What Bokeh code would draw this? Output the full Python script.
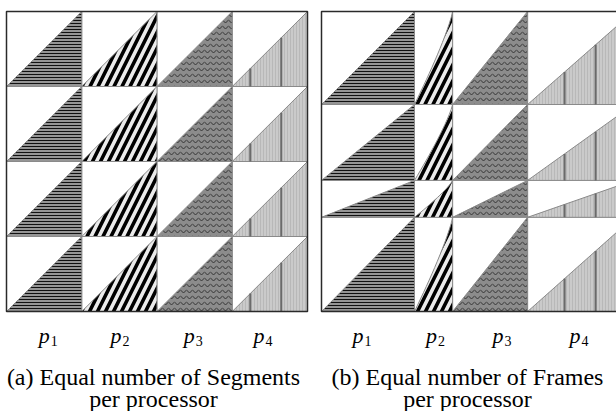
import numpy as np
from bokeh.plotting import figure
from bokeh.models import Range1d
from bokeh.core.properties import value
from bokeh.embed import file_html
from bokeh.resources import INLINE

# ---------------- data ----------------
processors = ["p", "p", "p", "p"]
proc_index = ["1", "2", "3", "4"]
# share of the panel width (frames) given to each processor
a_proc_share = [0.25, 0.25, 0.25, 0.25]
b_proc_share = [0.31, 0.127, 0.25, 0.353]
# share of the panel height given to each segment (row)
a_seg_share = [0.25, 0.25, 0.25, 0.25]
b_seg_share = [0.31, 0.253, 0.123, 0.314]
caption_a = ["(a) Equal number of Segments", "per processor"]
caption_b = ["(b) Equal number of Frames", "per processor"]

# ---------------- layout / style ----------------
PANELS = [
    dict(x0=6, y0=11, w=301, h=300, cols=a_proc_share, rows=a_seg_share,
         curved=[False] * 4, plank=[18, 49],
         label_dx=[0, -3.5, -5.5, -11], cap=caption_a, cap_x=153),
    dict(x0=321, y0=11, w=300, h=300, cols=b_proc_share, rows=b_seg_share,
         curved=[False, True, False, False], plank=[37, 68],
         label_dx=[-10, -2, 8, -5.5], cap=caption_b, cap_x=467),
]
STYLES = [
    dict(fill_color="#959595", hatch_pattern="horizontal_line", hatch_color="#111111",
         hatch_scale=3, hatch_weight=1),
    dict(fill_color="#ebebeb", hatch_pattern="right_diagonal_line", hatch_color="#000000",
         hatch_scale=16, hatch_weight=3.6),
    dict(fill_color="#8c8c8c", hatch_pattern="horizontal_wave", hatch_color="#333333",
         hatch_scale=6, hatch_weight=1),
    dict(fill_color="#cacaca", hatch_pattern="vertical_line", hatch_color="#b8b8b8",
         hatch_scale=3, hatch_weight=1),
]
SERIF = value("Liberation Serif")

p = figure(width=616, height=411, x_range=Range1d(0, 616), y_range=Range1d(411, 0),
           output_backend="svg", toolbar_location=None,
           x_axis_location=None, y_axis_location=None,
           min_border=0, min_border_left=0, min_border_right=0,
           min_border_top=0, min_border_bottom=0)
p.grid.visible = False
p.outline_line_color = None
p.background_fill_color = "white"
p.border_fill_color = "white"

for pan in PANELS:
    xe = pan["x0"] + pan["w"] * np.concatenate([[0], np.cumsum(pan["cols"])])
    ye = pan["y0"] + pan["h"] * np.concatenate([[0], np.cumsum(pan["rows"])])
    # cells
    L, R, T, B = [], [], [], []
    for i in range(len(pan["cols"])):
        for j in range(len(pan["rows"])):
            L.append(xe[i]); R.append(xe[i + 1]); T.append(ye[j]); B.append(ye[j + 1])
    p.quad(left=L, right=R, top=T, bottom=B, fill_color="white",
           line_color="#a8a8a8", line_width=1)
    # triangles per processor
    for i in range(len(pan["cols"])):
        x0, x1 = xe[i], xe[i + 1]
        xs, ys = [], []
        sx0, sx1, sy0, sy1 = [], [], [], []
        for j in range(len(pan["rows"])):
            yt, yb = ye[j], ye[j + 1]
            if pan["curved"][i]:
                t = np.linspace(0, 1, 16)
                f = 1 - (1 - t) ** 1.2
                hx = list(x0 + (x1 - x0) * f)
                hy = list(yb - (yb - yt) * t)
            else:
                hx = [x0, x1]
                hy = [yb, yt]
            xs.append(hx + [x1])
            ys.append(hy + [yb])
            if i == 3:
                for off in pan["plank"]:
                    px = x0 + off
                    if x0 < px < x1:
                        sx0.append(px); sx1.append(px)
                        sy0.append(yb)
                        sy1.append(yb - (yb - yt) * (px - x0) / (x1 - x0))
        p.patches(xs=xs, ys=ys, line_color="#8a8a8a", line_width=1, **STYLES[i])
        if sx0:
            p.segment(x0=sx0, y0=sy0, x1=sx1, y1=sy1, line_color="#6a6a6a", line_width=2)
        # label
        cx = (x0 + x1) / 2 + pan["label_dx"][i]
        p.text(x=[cx], y=[335], text=[processors[i]], text_font=SERIF,
               text_font_style="italic", text_font_size="22px",
               text_align="center", text_baseline="alphabetic", text_color="black")
        p.text(x=[cx + 6.5], y=[340], text=[proc_index[i]], text_font=SERIF,
               text_font_size="14px", text_align="left",
               text_baseline="alphabetic", text_color="black")
    # outer frame
    p.quad(left=[pan["x0"]], right=[pan["x0"] + pan["w"]], top=[pan["y0"]],
           bottom=[pan["y0"] + pan["h"]], fill_color=None, line_color="#2a2a2a",
           line_width=1.5)
    # caption
    p.text(x=[pan["cap_x"]] * 2, y=[376, 398], text=pan["cap"], text_font=SERIF,
           text_font_size="24px", text_align="center", text_baseline="alphabetic",
           text_color="black")

open("out.html", "w").write(file_html(p, INLINE))
